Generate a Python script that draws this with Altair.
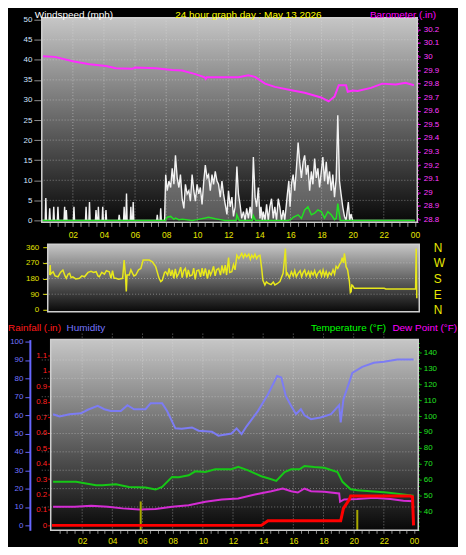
import altair as alt
import pandas as pd

FONT = "Liberation Sans"

# ---------------- axis / grid positions ----------------
hour_grid = [2, 4, 6, 8, 10, 12, 14, 16, 18, 20, 22]
hour_ticks = [h / 2 for h in range(1, 49)]
wind_ticks = [0, 5, 10, 15, 20, 25, 30, 35, 40, 45, 50]
wind_grid = [5, 10, 15, 20, 25, 30, 35, 40, 45]
baro_ticks = [28.8, 28.9, 29.0, 29.1, 29.2, 29.3, 29.4, 29.5, 29.6, 29.7, 29.8, 29.9, 30.0, 30.1, 30.2]
dir_ticks = [0, 90, 180, 270, 360]
dir_grid = [90, 180, 270]
hum_ticks = [0, 10, 20, 30, 40, 50, 60, 70, 80, 90, 100]
hum_grid = [10, 20, 30, 40, 50, 60, 70, 80, 90]
rain_ticks = [0, 0.1, 0.2, 0.3, 0.4, 0.5, 0.6, 0.7, 0.8, 0.9, 1.0, 1.1]
temp_ticks = [40, 50, 60, 70, 80, 90, 100, 110, 120, 130, 140]

# ---------------- barometer (in) ----------------
baro_t = [0.08, 0.83, 2.0, 3.07, 4.13, 4.77, 5.83, 6.0, 7.33, 8.39, 9.03, 9.88, 10.48, 10.55,
          10.62, 11.59, 12.65, 13.29, 13.72, 14.36, 15.0, 16.06, 16.91, 17.97, 18.45, 18.83,
          19.1, 19.57, 19.68, 20.0, 20.32, 21.17, 21.9, 22.77, 23.4, 23.94]
baro_v = [30.001, 29.997, 29.965, 29.942, 29.93, 29.913, 29.91, 29.918, 29.913, 29.90, 29.897,
          29.87, 29.847, 29.835, 29.847, 29.847, 29.847, 29.861, 29.85, 29.80, 29.776, 29.752,
          29.733, 29.698, 29.669, 29.705, 29.788, 29.788, 29.74, 29.75, 29.746, 29.769, 29.80,
          29.793, 29.807, 29.788]

# ---------------- wind speed (mph), gusts ----------------
wind_t = [0.00, 0.22, 0.26, 0.30, 0.47, 0.51, 0.55, 0.73, 0.77, 0.81, 1.00, 1.04, 1.08,
          1.43, 1.47, 1.51, 1.55, 1.58, 1.62, 2.03, 2.07, 2.11, 2.81, 2.85, 2.89, 3.03, 3.07,
          3.11, 3.45, 3.49, 3.53, 3.60, 3.64, 3.68, 3.88, 3.92, 3.96, 4.09, 4.13, 4.17, 4.94,
          4.98, 5.02, 5.26, 5.30, 5.34, 5.41, 5.45, 5.49, 5.69, 5.73, 5.77, 5.84, 5.88, 5.92,
          7.39, 7.43, 7.47, 7.61, 7.65, 7.69, 7.90,
          7.97, 8.07, 8.18, 8.29, 8.39, 8.50, 8.60, 8.71, 8.82, 8.92,
          9.03, 9.14, 9.24, 9.35, 9.46, 9.56, 9.67, 9.78, 9.88, 9.99,
          10.10, 10.20, 10.31, 10.42, 10.52, 10.63, 10.73, 10.84, 10.95, 11.05,
          11.16, 11.27, 11.37, 11.48, 11.59, 11.69, 11.80, 11.91, 12.01, 12.12,
          12.23, 12.33, 12.44, 12.55, 12.65, 12.76, 12.86, 12.97, 13.08, 13.18,
          13.29, 13.40, 13.50, 13.61, 13.72, 13.82, 13.93, 14.04, 14.10, 14.19,
          14.25, 14.36, 14.46, 14.57, 14.67, 14.78, 14.89, 14.99, 15.10, 15.21,
          15.31, 15.42, 15.53, 15.63,
          15.80, 15.89, 15.97, 16.06, 16.17, 16.27, 16.38, 16.49, 16.59, 16.70, 16.81, 16.91,
          17.02, 17.12, 17.23, 17.34, 17.44, 17.55, 17.66, 17.76, 17.87, 17.98,
          18.08, 18.19, 18.30, 18.40, 18.51, 18.62, 18.72, 18.83, 18.94,
          19.04, 19.15, 19.25, 19.36, 19.47, 19.57, 19.72, 19.81, 19.89, 20.00, 24.00]
wind_v = [0, 0, 5.6, 0, 0, 3.0, 0, 0, 3.4, 0, 0, 3.4, 0,
          0, 3.4, 0, 0, 2.6, 0, 0, 3.4, 0, 0, 3.4, 0, 0, 4.6,
          0, 0, 2.6, 0, 0, 3.4, 0, 0, 3.4, 0, 0, 2.6, 0, 0,
          1.4, 0, 0, 3.4, 0, 0, 6.7, 0, 0, 3.4, 0, 0, 4.6, 0,
          0, 1.4, 0, 0, 3.0, 0, 0,
          11.4, 7.4, 9.8, 8.2, 13.0, 9.0, 16.2, 10.6, 8.2, 11.4,
          5.4, 3.0, 9.0, 6.6, 7.4, 4.8, 11.4, 7.4, 4.8, 9.0,
          6.6, 8.2, 4.0, 9.8, 13.8, 10.6, 11.4, 7.4, 11.4, 9.0,
          12.2, 9.8, 9.0, 5.8, 9.8, 6.6, 4.0, 1.5, 7.4, 3.4,
          5.8, 1.0, 3.4, 13.4, 6.6, 3.8, 0.5, 2.2, 0, 3.0,
          0.5, 3.4, 0.5, 15.8, 5.8, 3.4, 8.2, 0.5, 3.4, 0,
          2.2, 0, 4.0, 0, 3.4, 5.4, 0.5, 3.4, 0, 5.4,
          3.4, 0, 2.6, 0,
          6.6, 9.8, 3.4, 9.0, 11.4, 7.4, 13.0, 19.4, 14.6, 10.6, 14.6, 16.2,
          11.4, 13.8, 7.4, 12.2, 9.0, 15.4, 10.6, 13.0, 8.2, 12.2,
          15.8, 9.8, 14.6, 9.0, 12.2, 7.4, 11.4, 5.8, 10.6,
          26.2, 9.8, 6.6, 3.4, 1.0, 0, 4.6, 0, 1.6, 0, 0]

# ---------------- average wind speed (mph) ----------------
avg_t = [0, 7.95, 8.07, 8.29, 8.50, 8.60, 8.82, 9.03, 9.67, 10.00,
         10.52, 10.73, 11.16, 11.48, 11.80, 12.50, 12.55, 12.70, 13.55, 13.61,
         13.75, 15.85, 16.06, 16.17, 16.49, 16.70, 16.91, 17.12, 17.34, 17.55,
         17.76, 17.98, 18.19, 18.40, 18.62, 18.83, 18.94, 19.04, 19.20, 24]
avg_v = [0, 0, 0.8, 1.0, 0.3, 0.6, 0.2, 0.3, 0, 0.2,
         0.6, 0.8, 0.4, 0.2, 0, 0, 1.4, 0, 0, 1.2,
         0, 0, 0.3, 0.8, 1.4, 0.5, 2.6, 3.4, 1.4, 1.8,
         2.6, 2.2, 0.6, 2.2, 1.4, 0.2, 0.5, 4.2, 0, 0]

# ---------------- wind direction (deg) ----------------
dir_t = [0.00, 0.03, 0.06, 0.22, 0.35, 0.54, 0.70, 0.86, 1.00, 1.08,
         1.20, 1.30, 1.40, 1.51, 1.70, 1.95, 2.10, 2.27, 2.50, 2.70,
         2.85, 3.03, 3.15, 3.24, 3.40, 3.57, 3.70, 3.89, 4.00, 4.10,
         4.20, 4.32, 4.50, 4.76, 4.86, 4.95, 5.00, 5.05, 5.19, 5.30,
         5.41, 5.50, 5.62, 5.80, 5.95, 6.10, 6.27, 6.50, 6.70, 6.92,
         7.14, 7.25, 7.35, 7.50, 7.57, 7.70, 7.80, 7.90, 8.00, 8.10,
         8.20, 8.30, 8.43, 8.55, 8.65, 8.75, 8.86, 8.95, 9.05, 9.15,
         9.30, 9.40, 9.50, 9.60, 9.73, 9.85, 9.95, 10.05, 10.16, 10.30,
         10.40, 10.50, 10.59, 10.70, 10.80, 10.90, 11.03, 11.15, 11.25, 11.35,
         11.46, 11.55, 11.68, 11.75, 11.89, 12.00, 12.10, 12.22, 12.35, 12.54,
         12.65, 12.75, 12.86, 13.00, 13.10, 13.19, 13.30, 13.40, 13.51, 13.62,
         13.73, 13.84, 13.92, 14.05, 14.15, 14.27, 14.45, 14.60, 14.70, 14.85,
         15.03, 15.15, 15.24, 15.39, 15.45, 15.52, 15.65, 15.78, 15.90, 16.00,
         16.10, 16.22, 16.35, 16.45, 16.55, 16.65, 16.75, 16.90, 17.00, 17.08,
         17.20, 17.30, 17.42, 17.51, 17.65, 17.75, 17.85, 17.95, 18.05, 18.15,
         18.25, 18.38, 18.50, 18.60, 18.70, 18.81, 18.92, 19.03, 19.10, 19.18,
         19.24, 19.30, 19.35, 19.45, 19.57, 19.63, 19.68, 19.73, 19.78, 19.89,
         21.84, 21.95, 23.89, 23.93, 23.97]
dir_v = [200, 257, 205, 219, 195, 190, 215, 229, 195, 181,
         205, 210, 185, 190, 178, 181, 195, 190, 215, 222,
         215, 219, 195, 190, 215, 205, 225, 219, 181, 225,
         181, 181, 176, 181, 286, 190, 105, 200, 200, 230,
         210, 195, 200, 230, 238, 286, 286, 286, 276, 248,
         181, 162, 170, 215, 219, 200, 238, 195, 229, 181,
         235, 190, 210, 245, 185, 225, 238, 185, 230, 195,
         200, 240, 175, 225, 229, 190, 240, 195, 238, 180,
         230, 200, 219, 250, 195, 230, 238, 200, 255, 210,
         257, 200, 300, 215, 219, 260, 230, 314, 295, 324,
         300, 320, 305, 320, 290, 314, 300, 320, 295, 310,
         314, 238, 170, 143, 160, 152, 145, 160, 143, 150,
         162, 190, 210, 352, 200, 210, 185, 219, 195, 225,
         190, 210, 225, 190, 215, 229, 195, 220, 190, 219,
         200, 225, 190, 210, 225, 195, 229, 195, 220, 190,
         215, 200, 230, 205, 250, 238, 260, 276, 300, 270,
         324, 290, 248, 230, 162, 100, 105, 143, 140, 124,
         124, 120, 120, 352, 67]

# ---------------- humidity (%) ----------------
hum_t = [0.07, 0.5, 1.16, 1.93, 2.37, 3.03, 3.47, 3.9, 4.56, 5.0,
         5.44, 6.2, 6.54, 7.3, 7.63, 8.18, 8.6, 9.28, 9.72, 10.6,
         11.03, 11.9, 12.24, 12.57, 12.9, 13.66, 14.32, 14.93, 15.2, 15.5,
         15.86, 16.18, 16.5, 16.74, 17.17, 17.8, 18.5, 19.04, 19.14, 19.32,
         19.7, 19.91, 20.57, 21.34, 22.0, 22.9, 23.97]
hum_v = [60.5, 59.3, 60.5, 61, 62.9, 65, 63.2, 62.2, 62.2, 65.4,
         63.2, 63.2, 66.5, 66.5, 62.2, 52.8, 52.6, 53.3, 51.5, 51,
         48.8, 50, 52.8, 49.7, 53.9, 62.3, 71.4, 81.3, 80.5, 70.4,
         65, 60.5, 63.2, 59.9, 57.8, 58.7, 60.5, 65.4, 56, 68.6,
         77.7, 83, 86.3, 88.5, 89, 90.3, 90.3]

# ---------------- temperature / dew point (F) ----------------
temp_t = [0.07, 1.6, 2.92, 3.35, 4.24, 5.1, 6.2, 6.87, 7.3, 7.96,
          8.4, 9.06, 9.5, 10.17, 10.82, 11.9, 12.35, 13.0, 13.88, 14.54,
          14.87, 15.42, 15.86, 16.41, 16.74, 17.39, 18.05, 18.93, 19.26, 19.8,
          20.24, 21.12, 22.2, 23.3, 23.97]
temp_v = [58.6, 58.6, 56.4, 56.4, 57.1, 55.4, 55.0, 53.75, 55.4, 61.7,
          61.5, 62.7, 65.2, 64.8, 66.5, 66.5, 68.1, 65.8, 62.1, 60.2,
          59.2, 64.8, 66.5, 66.5, 68.6, 67.9, 67.5, 64.8, 58.6, 53.9,
          53.3, 52.7, 51.9, 50.6, 49.8]
dew_t = [0.07, 1.5, 2.6, 3.7, 4.67, 5.77, 6.87, 7.96, 9.06, 10.17,
         11.26, 12.35, 13.45, 14.54, 15.3, 15.86, 16.3, 16.74, 17.17, 18.05,
         19.04, 19.1, 19.37, 20.24, 21.34, 22.44, 23.3, 23.97]
dew_v = [42.9, 42.9, 43.5, 42.9, 41.9, 41.25, 41.5, 42.9, 43.9, 46.1,
         47.5, 48.1, 50.6, 52.7, 54.4, 52.7, 51.9, 54.4, 52.7, 52.3,
         51.25, 46.1, 47.5, 47.8, 48.6, 47.8, 46.7, 46.4]

# ---------------- rainfall (in) ----------------
rain_t = [0, 13.88, 14.32, 19.14, 19.32, 19.7, 19.8, 23.75, 23.9, 23.97]
rain_v = [0, 0, 0.03, 0.03, 0.11, 0.165, 0.19, 0.19, 0.185, 0]
rate_t = [5.88, 20.24]
rate_v = [0.155, 0.10]

# ---------------- helpers ----------------
one = pd.DataFrame({"k": [0]})
hour_label_expr = ("datum.value % 2 == 0 ? (datum.value == 24 ? '00' : "
                   "(datum.value < 10 ? '0' + datum.value : '' + datum.value)) : ''")


def grad(top, bottom):
    return alt.Gradient(gradient="linear",
                        stops=[alt.GradientStop(color=top, offset=0),
                               alt.GradientStop(color=bottom, offset=1)],
                        x1=0, x2=0, y1=0, y2=1)


def background(x0, x1, y0, y1):
    return alt.Chart(one).mark_rect(color=grad("#c6c6c6", "#080808")).encode(
        x=alt.value(x0), x2=alt.value(x1), y=alt.value(y0), y2=alt.value(y1))


def frame(x0, x1, y0, y1):
    return alt.Chart(one).mark_rect(fillOpacity=0, stroke="#cfcfcf", strokeWidth=1.5).encode(
        x=alt.value(x0), x2=alt.value(x1), y=alt.value(y0), y2=alt.value(y1))


def label(txt, x, y, color, align="left", baseline="alphabetic", size=10):
    return alt.Chart(one).mark_text(text=txt, align=align, baseline=baseline, color=color,
                                    fontSize=size, font=FONT).encode(
        x=alt.value(x), y=alt.value(y))


def vgrid(scale):
    return alt.Chart(pd.DataFrame({"h": hour_grid})).mark_rule(
        color="#e0e0e0", strokeDash=[1, 2], opacity=0.5).encode(
        x=alt.X("h:Q", scale=scale, axis=None))


def hgrid(values, scale):
    return alt.Chart(pd.DataFrame({"g": values})).mark_rule(
        color="#e0e0e0", strokeDash=[1, 2], opacity=0.45).encode(
        y=alt.Y("g:Q", scale=scale, axis=None))


def hour_axis(size, pad):
    return alt.Axis(orient="bottom", values=hour_ticks, labelExpr=hour_label_expr,
                    labelColor="#e6e600", labelFontSize=8.5, tickColor="#8c8c8c",
                    tickSize=size, labelPadding=pad, domain=False, grid=False, title=None,
                    labelFlush=False, labelOverlap=False)


# ================= top panel: wind speed + barometer =================
W1, H1 = 378, 206
xs1 = alt.Scale(domain=[0, 24], range=[0, 375.6], nice=False)
ys_wind = alt.Scale(domain=[-0.48, 50.48], nice=False, zero=False)
ys_baro = alt.Scale(domain=[28.779, 30.285], nice=False, zero=False)

wind_df = pd.DataFrame({"t": wind_t, "v": wind_v})
wind_fill = alt.Chart(wind_df).mark_area(color="#e8e8e8", opacity=0.35).encode(
    x=alt.X("t:Q", scale=xs1, axis=None),
    y=alt.Y("v:Q", scale=ys_wind, axis=None))
wind = alt.Chart(wind_df).mark_line(color="#f2f2f2", strokeWidth=1.4).encode(
    x=alt.X("t:Q", scale=xs1, axis=hour_axis(4, 4)),
    y=alt.Y("v:Q", scale=ys_wind, axis=alt.Axis(
        orient="left", values=wind_ticks, labelColor="#d4e4ff", tickColor="#8c8c8c",
        tickSize=8, labelPadding=2, domain=False, grid=False, title=None,
        labelOverlap=False)))
avg = alt.Chart(pd.DataFrame({"t": avg_t, "v": avg_v})).mark_line(
    color="#22e022", strokeWidth=1.5).encode(
    x=alt.X("t:Q", scale=xs1, axis=None),
    y=alt.Y("v:Q", scale=ys_wind, axis=None))
baro = alt.Chart(pd.DataFrame({"t": baro_t, "v": baro_v})).mark_line(
    color="#ff2cff", strokeWidth=2).encode(
    x=alt.X("t:Q", scale=xs1, axis=None),
    y=alt.Y("v:Q", scale=ys_baro, axis=alt.Axis(
        orient="right", values=baro_ticks, format=".1~f", labelColor="#ff3cff",
        tickColor="#ff00ff", tickSize=3, labelPadding=3, domain=True, domainColor="#ff00ff",
        domainDash=[1, 3], domainWidth=2, grid=False, title=None, labelOverlap=False)))

top = alt.layer(
    background(0, W1, 0, H1), vgrid(xs1), hgrid(wind_grid, ys_wind), wind_fill, wind, avg, baro,
    frame(0, W1, 0, H1),
    label("Windspeed (mph)", -7, -8, "#ffffff", baseline="top"),
    label("24 hour graph day : May 13 2026", 208, -8, "#ffff00", align="center", baseline="top"),
    label("Barometer (.in)", 397, -8, "#ff00ff", align="right", baseline="top"),
).resolve_scale(y="independent").resolve_axis(x="independent").properties(width=W1, height=H1)

# ================= middle panel: wind direction =================
W2, H2 = 380, 68
xs2 = alt.Scale(domain=[0, 24], range=[8, 378], nice=False)
ys_dir = alt.Scale(domain=[-11, 377], nice=False, zero=False)

dirline = alt.Chart(pd.DataFrame({"t": dir_t, "d": dir_v})).mark_line(
    color="#e8e81c", strokeWidth=1.5).encode(
    x=alt.X("t:Q", scale=xs2, axis=None),
    y=alt.Y("d:Q", scale=ys_dir, axis=alt.Axis(
        orient="left", values=dir_ticks, offset=-6, labelColor="#e0e000",
        tickColor="#e0e000", tickSize=5, labelPadding=4, domain=False, grid=False,
        title=None, labelOverlap=False)))
compass = alt.Chart(pd.DataFrame({"d": dir_ticks})).mark_point(opacity=0).encode(
    y=alt.Y("d:Q", scale=ys_dir, axis=alt.Axis(
        orient="right", values=dir_ticks,
        labelExpr="datum.value == 0 ? 'N' : datum.value == 90 ? 'E' : datum.value == 180 ? 'S' : datum.value == 270 ? 'W' : 'N'",
        ticks=False, tickSize=0, labelPadding=14, labelFontSize=12, labelColor="#e8e800",
        domain=False, grid=False, title=None, labelOverlap=False)))

mid = alt.layer(
    background(6, W2, 0, H2), hgrid(dir_grid, ys_dir), dirline, compass,
    frame(6, W2, 0, H2),
).resolve_axis(y="independent").properties(width=W2, height=H2)

# ================= bottom panel: humidity, temperature, rain =================
W3, H3 = 379, 198
xs3 = alt.Scale(domain=[0, 24], range=[10.3, 374.7], nice=False)
ys_hum = alt.Scale(domain=[-2.7, 101.1], range=[198, 6], nice=False, zero=False)
ys_rain = alt.Scale(domain=[-0.032, 1.203], range=[198, 6], nice=False, zero=False)
ys_temp = alt.Scale(domain=[28.1, 148.1], range=[198, 6], nice=False, zero=False)

hum = alt.Chart(pd.DataFrame({"t": hum_t, "v": hum_v})).mark_line(
    color="#7c7cf4", strokeWidth=2).encode(
    x=alt.X("t:Q", scale=xs3, axis=hour_axis(3, 3)),
    y=alt.Y("v:Q", scale=ys_hum, axis=alt.Axis(
        orient="left", values=hum_ticks, offset=12, labelColor="#7474ff",
        tickColor="#6666ff", tickSize=5, labelPadding=2, domain=True, domainColor="#6666ff",
        domainWidth=2, grid=False, title=None, labelOverlap=False)))
temp = alt.Chart(pd.DataFrame({"t": temp_t, "v": temp_v})).mark_line(
    color="#16c816", strokeWidth=2).encode(
    x=alt.X("t:Q", scale=xs3, axis=None),
    y=alt.Y("v:Q", scale=ys_temp, axis=alt.Axis(
        orient="right", values=temp_ticks, labelColor="#22e022", tickColor="#00c800",
        tickSize=3, labelPadding=2, domain=True, domainColor="#00c800", domainDash=[1, 3],
        domainWidth=2, grid=False, title=None, labelOverlap=False)))
dew = alt.Chart(pd.DataFrame({"t": dew_t, "v": dew_v})).mark_line(
    color="#d42cd4", strokeWidth=2).encode(
    x=alt.X("t:Q", scale=xs3, axis=None),
    y=alt.Y("v:Q", scale=ys_temp, axis=None))
rate = alt.Chart(pd.DataFrame({"t": rate_t, "v": rate_v})).mark_rule(
    color="#a8a800", strokeWidth=2).encode(
    x=alt.X("t:Q", scale=xs3, axis=None),
    y=alt.Y("v:Q", scale=ys_rain, axis=None),
    y2=alt.datum(-0.032))
rain = alt.Chart(pd.DataFrame({"t": rain_t, "v": rain_v})).mark_line(
    color="#ff0000", strokeWidth=3).encode(
    x=alt.X("t:Q", scale=xs3, axis=None),
    y=alt.Y("v:Q", scale=ys_rain, axis=alt.Axis(
        orient="left", values=rain_ticks, offset=-9, format=".1~f", labelColor="#ff2020",
        tickColor="#ff0000", tickSize=3, labelPadding=1, domain=True, domainColor="#ff0000",
        domainDash=[1, 2], domainWidth=2, grid=False, title=None, labelOverlap=False)))

bot = alt.layer(
    background(9, W3, 6, H3), vgrid(xs3), hgrid(hum_grid, ys_hum), hum, temp, dew, rate, rain,
    frame(9, W3, 6, H3),
    label("Rainfall (.in)", -34, -3, "#ff1a1a"),
    label("Humidity", 25, -3, "#7676ff"),
    label("Temperature (°F)", 271, -3, "#00ff00"),
    label("Dew Point (°F)", 353, -3, "#ff00ff"),
).resolve_scale(y="independent").resolve_axis(x="independent").properties(width=W3, height=H3)

chart = alt.vconcat(top, mid, bot, spacing=22, bounds="flush").properties(
    background="#000000", padding=0
).configure_view(stroke=None).configure_axis(labelFont=FONT, labelFontSize=8, grid=False)

chart.save("out.html", embed_options={"renderer": "svg", "actions": False})
